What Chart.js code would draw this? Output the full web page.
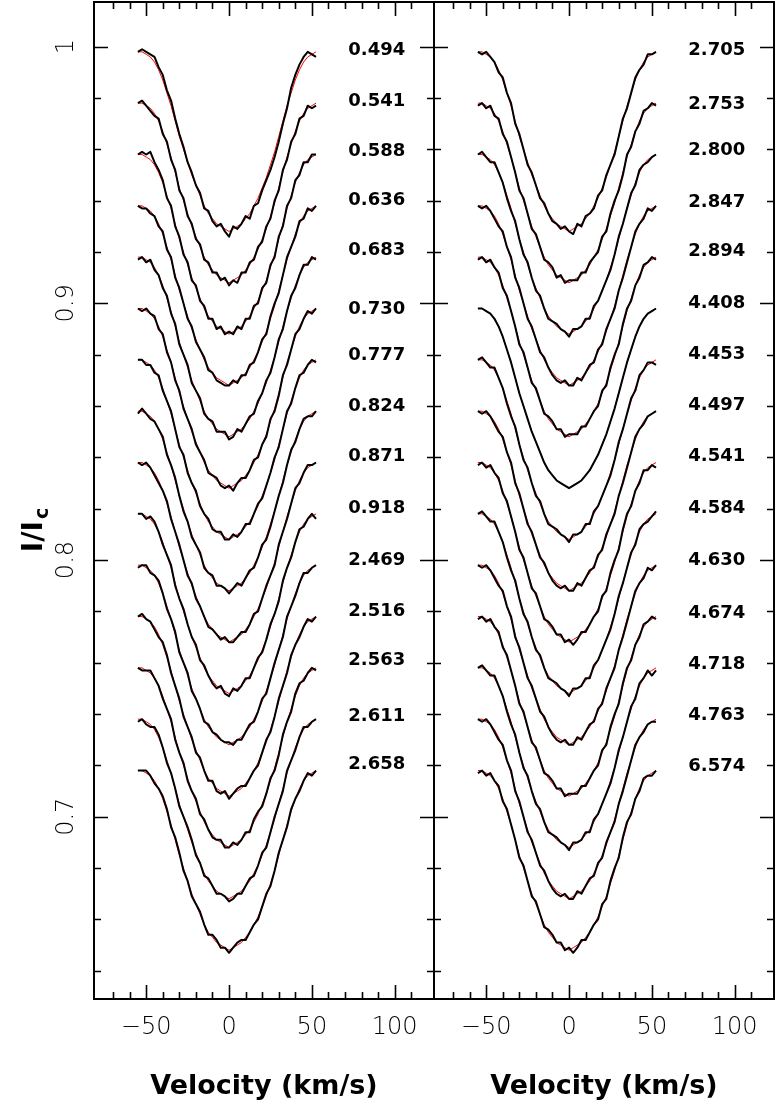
<!DOCTYPE html>
<html>
<head>
<meta charset="utf-8">
<script src="https://cdn.jsdelivr.net/npm/chart.js@4/dist/chart.umd.min.js"></script>
<style>
  html, body { margin: 0; padding: 0; background: #fff; }
  body { width: 777px; height: 1107px; position: relative; overflow: hidden; }
  canvas { position: absolute; top: 0; }
  #cL { left: 0; }
  #cR { left: 428px; }
</style>
</head>
<body>
<canvas id="cL" width="440" height="1107"></canvas>
<canvas id="cR" width="349" height="1107"></canvas>
<script>
// ---------------- DATA ----------------
// Velocity grid (km/s)
const velocity = [-55,-52.5,-50,-47.5,-45,-42.5,-40,-37.5,-35,-32.5,-30,-27.5,-25,-22.5,-20,-17.5,-15,-12.5,-10,-7.5,-5,-2.5,0,2.5,5,7.5,10,12.5,15,17.5,20,22.5,25,27.5,30,32.5,35,37.5,40,42.5,45,47.5,50,52.5];

// Vertical offsets applied to successive profiles (I/Ic units)
const offsets = [0,0.02,0.04,0.06,0.08,0.10,0.12,0.14,0.16,0.18,0.20,0.22,0.24,0.26,0.28];

// Phase labels
const phasesLeft  = ["0.494","0.541","0.588","0.636","0.683","0.730","0.777","0.824","0.871","0.918","2.469","2.516","2.563","2.611","2.658"];
const phasesRight = ["2.705","2.753","2.800","2.847","2.894","4.408","4.453","4.497","4.541","4.584","4.630","4.674","4.718","4.763","6.574"];
// Label vertical positions (I/Ic) and horizontal anchor (km/s)
const labelYLeft  = [0.9987,0.9788,0.9594,0.9403,0.9208,0.8978,0.8799,0.8597,0.8406,0.8203,0.7997,0.7802,0.7608,0.7393,0.7206];
const labelYRight = [0.9986,0.9774,0.9598,0.9392,0.9201,0.8999,0.8803,0.8603,0.8403,0.8200,0.7998,0.7792,0.7592,0.7396,0.7196];
const labelX = 72;

// Model (fit) profile, I/Ic in units of 0.001
const modelProfile = [998,998,997,996,994,991,987,982,977,971,965,960,955,950,946,942,938,935,933,931,930,929,928,929,930,931,933,935,938,941,945,949,954,959,965,971,977,982,987,991,994,996,997,998];

// Observed profiles, I/Ic in units of 0.001 (left panel)
const obsLeft = [
 [998,999,998,997,996,992,989,983,979,972,966,961,955,951,946,943,937,936,932,930,931,928,926,930,929,931,934,933,938,939,944,948,952,957,963,970,976,984,989,993,996,998,997,996],
 [998,999,997,995,993,992,986,983,976,972,964,961,954,951,945,943,937,936,932,932,929,930,927,929,928,932,932,936,937,942,944,950,953,960,964,972,976,983,986,992,993,997,996,997],
 [998,999,998,999,995,992,988,981,978,970,966,959,956,949,947,941,939,934,934,930,931,928,929,928,931,930,934,934,939,940,946,948,955,958,966,970,978,981,988,990,995,995,998,998],
 [998,997,997,995,994,990,988,981,978,970,966,960,954,951,945,942,939,934,933,930,929,928,928,930,929,932,932,936,937,941,946,948,955,960,964,971,978,982,986,992,993,997,996,998],
 [997,998,996,997,993,991,986,983,976,972,964,960,956,949,946,943,937,935,934,930,930,930,927,928,931,930,933,936,937,942,945,950,953,959,966,970,977,983,986,991,995,995,998,997],
 [998,997,998,996,995,990,988,981,977,970,966,959,955,951,945,942,939,934,933,932,929,928,929,927,930,932,932,935,939,940,945,948,955,958,964,972,976,982,988,990,994,997,996,998],
 [998,998,996,996,993,992,986,982,978,971,964,961,954,950,947,941,938,936,932,931,931,928,928,930,929,931,934,934,938,942,944,949,954,960,964,971,978,981,987,992,993,996,998,997],
 [997,999,997,995,994,991,988,981,977,972,965,959,955,949,946,943,937,935,934,930,930,929,927,929,931,930,933,936,937,941,946,948,953,959,965,970,977,983,986,991,995,996,996,998],
 [998,997,998,996,993,990,987,983,976,971,966,960,954,951,945,942,938,934,933,931,929,930,928,928,930,932,932,935,939,940,945,950,954,958,966,971,976,982,988,990,994,997,997,998],
 [998,998,996,997,995,991,986,982,978,970,965,961,955,950,947,941,939,935,932,930,931,928,927,930,929,931,934,934,938,942,944,949,955,959,964,972,977,981,987,992,993,996,998,996],
 [997,998,998,995,994,992,987,981,977,972,964,960,956,949,946,942,937,936,933,932,930,929,929,928,930,930,933,936,937,941,946,948,954,960,965,970,978,982,986,991,995,995,997,998],
 [998,999,997,996,993,990,988,983,976,971,966,959,955,951,945,943,938,934,934,930,929,930,927,929,931,932,932,935,938,940,945,950,953,959,966,971,976,983,987,990,994,997,996,998],
 [998,997,997,997,994,991,986,982,978,970,965,961,954,950,947,941,939,935,932,931,931,928,928,930,929,931,934,934,939,942,944,949,955,958,964,972,977,981,988,992,993,996,998,997],
 [997,998,996,995,995,992,987,981,977,971,964,960,956,951,945,942,937,936,933,930,930,929,927,928,930,930,933,936,937,941,946,948,954,960,965,970,978,982,986,991,995,995,997,998],
 [998,998,998,996,993,991,988,983,976,972,966,959,955,949,946,943,938,934,934,932,929,929,927,929,931,932,932,935,938,940,945,950,953,959,966,971,976,983,987,990,994,997,996,998]
];

// Observed profiles, I/Ic in units of 0.001 (right panel)
const obsRight = [
 [998,997,998,996,994,990,988,982,978,970,966,960,954,951,946,941,939,935,932,931,929,930,928,927,931,930,934,935,937,942,944,950,954,958,965,972,976,982,988,991,993,997,997,998],
 [997,998,996,997,993,992,986,983,977,971,964,961,955,949,947,942,937,936,934,930,931,928,929,929,929,932,932,936,938,940,946,948,955,960,964,970,978,981,987,990,995,996,998,997],
 [998,999,997,995,995,991,987,981,976,972,965,959,956,950,945,943,938,934,933,932,930,929,927,930,930,931,934,934,939,941,945,949,953,959,966,971,977,983,986,992,994,995,997,998],
 [998,997,998,996,993,990,988,982,978,970,966,960,954,951,946,941,939,935,932,930,929,930,928,928,931,930,933,936,937,942,944,950,954,958,965,970,976,982,988,991,993,997,996,998],
 [997,998,996,997,994,992,986,983,977,971,964,961,955,949,947,942,937,936,934,931,931,928,929,929,929,932,932,935,938,940,946,948,955,960,964,972,978,981,987,990,995,996,998,997],
 [998,998,997,996,994,991,987,982,977,971,965,960,955,950,946,942,938,935,933,931,930,929,928,929,930,931,933,935,938,941,945,949,954,959,965,971,977,982,987,991,994,996,997,998],
 [998,999,997,995,995,991,987,981,976,972,965,959,956,950,945,943,938,934,933,932,930,929,927,930,930,931,934,934,939,941,945,949,953,959,966,971,977,983,986,992,994,997,997,996],
 [998,997,998,996,993,990,988,982,978,970,966,960,954,951,946,941,939,935,932,930,929,930,928,928,931,930,933,936,937,942,944,950,954,958,965,970,976,982,988,991,993,996,997,998],
 [997,998,996,997,994,992,986,983,977,971,964,961,955,949,947,942,937,936,934,931,931,928,929,927,929,932,932,935,938,940,946,948,955,960,964,972,978,981,987,990,995,995,997,996],
 [998,999,997,995,995,991,987,981,976,972,965,959,956,950,945,943,938,934,933,932,930,929,927,930,930,931,934,934,939,941,945,949,953,959,966,971,977,983,986,992,994,995,997,999],
 [998,997,998,996,993,990,988,982,978,970,966,960,954,951,946,941,939,935,932,930,929,930,928,928,931,930,933,936,937,942,944,950,954,958,965,970,976,982,988,991,993,997,996,998],
 [997,998,996,997,994,992,986,983,977,971,964,961,955,949,947,942,937,936,934,931,931,928,929,929,929,932,932,935,938,940,946,948,955,960,964,972,978,981,987,990,995,996,998,997],
 [998,999,997,995,995,991,987,981,976,972,965,959,956,950,945,943,938,934,933,932,930,929,927,930,930,931,934,934,939,941,945,949,953,959,966,971,977,983,986,992,994,997,995,997],
 [998,997,998,996,993,990,988,982,978,970,966,960,954,951,946,941,939,935,932,930,929,930,928,928,931,930,933,936,937,942,944,950,954,958,965,970,976,982,988,991,993,996,997,997],
 [997,998,996,997,994,992,986,983,977,971,964,961,955,949,947,942,937,936,934,931,931,928,929,927,929,932,932,935,938,940,946,948,955,960,964,972,978,981,987,990,995,996,996,998]
];

// Axis ranges
const xMin = -81.5, xMax = 123.7;
const yMin = 0.629, yMax = 1.0174;

// ---------------- RENDER ----------------
const TICK_FONT = '200 24px "DejaVu Sans", "Liberation Sans", sans-serif';

function buildDatasets(obs) {
  const ds = [];
  obs.forEach((prof, i) => {
    ds.push({
      data: modelProfile.map((m, j) => ({x: velocity[j], y: m / 1000 - offsets[i]})),
      borderColor: '#ff0000', borderWidth: 1, order: 1
    });
    ds.push({
      data: prof.map((v, j) => ({x: velocity[j], y: v / 1000 - offsets[i]})),
      borderColor: '#000000', borderWidth: 2, order: 0
    });
  });
  ds.forEach(d => { d.showLine = true; d.pointRadius = 0; d.fill = false; d.tension = 0; d.borderJoinStyle = 'round'; });
  return ds;
}

function isMult(v, step) { return Math.abs(v / step - Math.round(v / step)) < 1e-6; }

const framePlugin = {
  id: 'frame',
  afterDatasetsDraw(chart, args, opts) {
    const {ctx, chartArea: a, scales: {x, y}} = chart;
    ctx.save();
    ctx.strokeStyle = '#000';
    ctx.lineWidth = 2;
    ctx.strokeRect(a.left, a.top, a.right - a.left, a.bottom - a.top);
    ctx.beginPath();
    x.ticks.forEach(t => {
      const v = t.value;
      if (!isMult(v, 10)) return;
      const px = Math.round(x.getPixelForValue(v)) + 0.5;
      const L = isMult(v, 50) ? 14 : 7;
      ctx.moveTo(px, a.bottom); ctx.lineTo(px, a.bottom - L);
      ctx.moveTo(px, a.top); ctx.lineTo(px, a.top + L);
    });
    y.ticks.forEach(t => {
      const v = t.value;
      if (!isMult(v, 0.02)) return;
      const py = Math.round(y.getPixelForValue(v)) + 0.5;
      const L = isMult(v, 0.1) ? 14 : 7;
      ctx.moveTo(a.left, py); ctx.lineTo(a.left + L, py);
      ctx.moveTo(a.right, py); ctx.lineTo(a.right - L, py);
    });
    ctx.lineWidth = 1.6;
    ctx.stroke();

    // phase labels
    ctx.fillStyle = '#000';
    ctx.font = 'bold 18px "DejaVu Sans", "Liberation Sans", sans-serif';
    ctx.textAlign = 'left';
    ctx.textBaseline = 'middle';
    const px = x.getPixelForValue(labelX);
    opts.labels.forEach((s, i) => {
      ctx.fillText(s, px, y.getPixelForValue(opts.labelY[i]));
    });

    if (opts.yLabels) {
      // y tick labels (rotated)
      ctx.font = TICK_FONT;
      ctx.textAlign = 'center';
      ctx.textBaseline = 'alphabetic';
      y.ticks.forEach(t => {
        const v = t.value;
        if (!isMult(v, 0.1)) return;
        const s = Math.abs(v - 1) < 1e-9 ? '1' : v.toFixed(1);
        ctx.save();
        ctx.translate(73, y.getPixelForValue(v));
        ctx.rotate(-Math.PI / 2);
        ctx.fillText(s, 0, 0);
        ctx.restore();
      });
      // y title I/I_c
      ctx.save();
      ctx.translate(42, 530);
      ctx.rotate(-Math.PI / 2);
      const fMain = 'bold 28px "DejaVu Sans", "Liberation Sans", sans-serif';
      const fSub = 'bold 19px "DejaVu Sans", "Liberation Sans", sans-serif';
      ctx.font = fMain;
      const w1 = ctx.measureText('I/I').width;
      ctx.font = fSub;
      const w2 = ctx.measureText('c').width;
      const start = -(w1 + w2 + 2) / 2;
      ctx.textAlign = 'left';
      ctx.font = fMain;
      ctx.fillText('I/I', start, 0);
      ctx.font = fSub;
      ctx.fillText('c', start + w1 + 2, 6);
      ctx.restore();
    }
    ctx.restore();
  }
};

function makeChart(id, obs, labels, labelY, isLeft) {
  return new Chart(document.getElementById(id), {
    type: 'scatter',
    data: { datasets: buildDatasets(obs) },
    plugins: [framePlugin],
    options: {
      responsive: false,
      devicePixelRatio: 1,
      animation: false,
      events: [],
      layout: { padding: isLeft ? {left: 0, right: 6, top: 2, bottom: 0} : {left: 6, right: 3, top: 2, bottom: 0} },
      plugins: {
        legend: { display: false },
        tooltip: { enabled: false },
        frame: { labels: labels, labelY: labelY, yLabels: isLeft }
      },
      scales: {
        x: {
          type: 'linear', position: 'bottom', min: xMin, max: xMax,
          grid: { display: false, drawTicks: false },
          border: { display: false },
          ticks: {
            stepSize: 10, autoSkip: false, maxRotation: 0, minRotation: 0,
            padding: 14, color: '#000',
            font: { family: '"DejaVu Sans", "Liberation Sans", sans-serif', size: 24, weight: 200 },
            callback: (v) => isMult(v, 50) ? (v < 0 ? '\u2212' + Math.abs(v) : String(v)) : ''
          },
          title: {
            display: true, text: 'Velocity (km/s)', color: '#000',
            font: { family: '"DejaVu Sans", "Liberation Sans", sans-serif', size: 27, weight: 'bold' },
            padding: { top: 0, bottom: 4 }
          },
          afterFit: (s) => { s.height = 108; s.paddingLeft = 0; s.paddingRight = 0; }
        },
        y: {
          type: 'linear', position: 'left', min: yMin, max: yMax,
          grid: { display: false, drawTicks: false },
          border: { display: false },
          ticks: { display: false, stepSize: 0.02 },
          afterFit: (s) => { s.width = isLeft ? 94 : 0; s.paddingTop = 0; s.paddingBottom = 0; }
        }
      }
    }
  });
}

makeChart('cL', obsLeft, phasesLeft, labelYLeft, true);
makeChart('cR', obsRight, phasesRight, labelYRight, false);
</script>
</body>
</html>
